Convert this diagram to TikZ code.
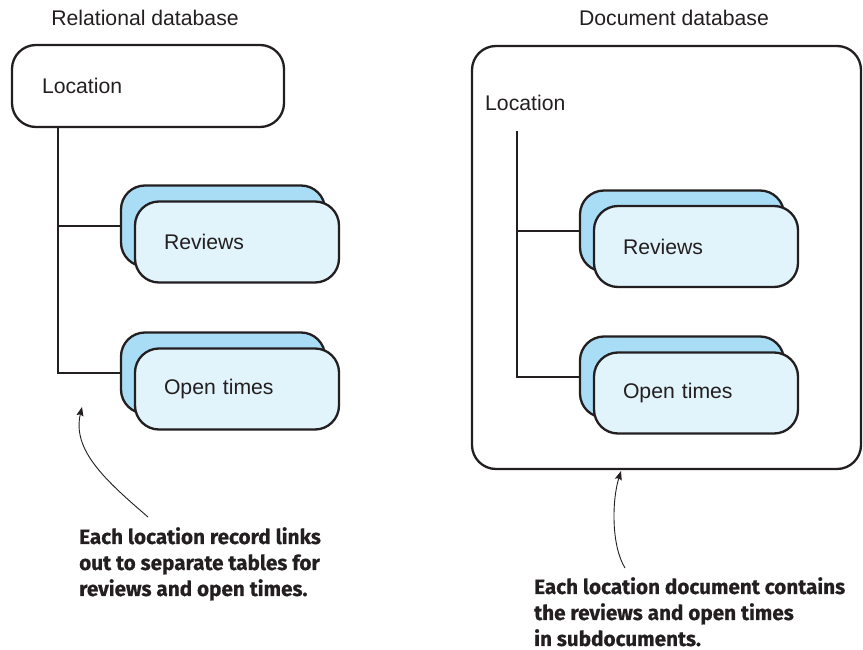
\documentclass[tikz,border=0pt]{standalone}
\usepackage{fontspec}
\setmainfont{Liberation Sans}
\newfontfamily\notefont{Fira Sans}[BoldFeatures={FakeBold=0.5}]
\usetikzlibrary{arrows.meta}
\definecolor{ink}{HTML}{231F20}
\definecolor{backblue}{HTML}{A9DDF5}
\definecolor{frontblue}{HTML}{E1F3FB}
\tikzset{
  txt/.style={text=ink, font=\fontsize{21.2}{25}\selectfont, inner sep=0pt},
  box/.style={draw=ink, line width=2.3pt, rounded corners=24pt, minimum width=204pt, minimum height=81pt, inner sep=0pt},
  backbox/.style={box, fill=backblue},
  frontbox/.style={box, fill=frontblue, txt, text width=146pt, inner xsep=29pt, align=left},
  treeline/.style={draw=ink, line width=2.3pt},
  note/.style={text=ink, font=\notefont\bfseries\fontsize{20.7}{26}\selectfont, align=left, inner sep=0pt, anchor=north west},
  notearrow/.style={draw=ink, line width=0.9pt, -{Stealth[length=9pt,width=7pt,inset=1.5pt]}}
}
\begin{document}
\begin{tikzpicture}[x=1pt,y=-1pt]
\useasboundingbox (0,0) rectangle (863,650);

% titles
\node[txt] (t1) at (145,18) {Relational database};
\node[txt] (t2) at (674,18) {Document database};

% ---------- Relational side ----------
\node[box, txt, minimum width=272pt, minimum height=82pt, text width=212pt, inner xsep=30pt, align=left] (locL) at (148,86) {Location};

\node[backbox] (revBackL) at (223,226) {};
\node[frontbox] (revL) at (237,242) {Reviews};
\node[backbox] (otBackL) at (223,373) {};
\node[frontbox] (otL) at (237,389) {Open times};

\path (locL.south west) ++(47,0) coordinate (tl);
\draw[treeline] (tl) |- (otBackL.west);
\draw[treeline] (tl |- revBackL.west) -- (revBackL.west);

% ---------- Document side ----------
\node[draw=ink, line width=2.3pt, rounded corners=24pt, minimum width=389pt, minimum height=423pt, inner sep=0pt] (docbox) at (666.5,257.5) {};
\node[txt, anchor=west] (locR) at (485,103) {Location};

\node[backbox] (revBackR) at (682,231) {};
\node[frontbox] (revR) at (696,246.5) {Reviews};
\node[backbox] (otBackR) at (682,377) {};
\node[frontbox] (otR) at (696,393) {Open times};

\coordinate (tr) at (517,131);
\draw[treeline] (tr) |- (otBackR.west);
\draw[treeline] (tr |- revBackR.west) -- (revBackR.west);

% ---------- notes ----------
\node[note] (n1) at (79,527) {Each location record links\\out to separate tables for\\reviews and open times.};
\node[note] (n2) at (534,577) {Each location document contains\\the reviews and open times\\in subdocuments.};

\coordinate (a1tail) at (148,517);
\coordinate (a1tip) at (82,407);
\draw[notearrow] (a1tail) .. controls (105,480) and (72,450) .. (a1tip);

\coordinate (a2tail) at (625,568);
\coordinate (a2tip) at (621,471);
\draw[notearrow] (a2tail) .. controls (611,545) and (612,500) .. (a2tip);
\end{tikzpicture}
\end{document}
